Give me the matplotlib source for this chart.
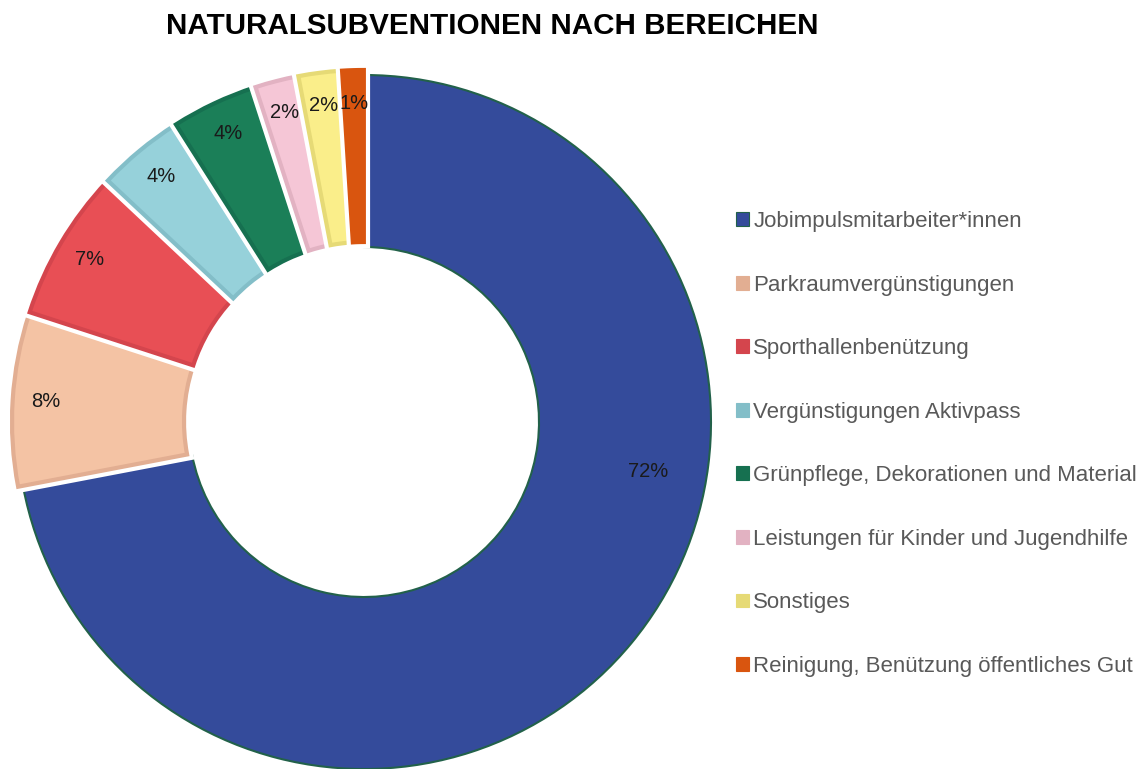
import matplotlib
matplotlib.use("Agg")
import matplotlib.pyplot as plt
import matplotlib.patheffects as pe

title = "NATURALSUBVENTIONEN NACH BEREICHEN"
categories = [
    "Jobimpulsmitarbeiter*innen",
    "Parkraumvergünstigungen",
    "Sporthallenbenützung",
    "Vergünstigungen Aktivpass",
    "Grünpflege, Dekorationen und Material",
    "Leistungen für Kinder und Jugendhilfe",
    "Sonstiges",
    "Reinigung, Benützung öffentliches Gut",
]
values = [72, 8, 7, 4, 4, 2, 2, 1]
colors = ["#344B9B", "#F4C3A4", "#E84F55", "#96D1DA", "#1B7F58", "#F5C6D6", "#FAEE8A", "#D9550F"]
edges = ["#22614A", "#E2AE92", "#D4454D", "#83BEC8", "#167050", "#E2B2C2", "#E6DA76", "#D9550F"]
explode_px = [0, 5, 5, 5, 5, 5, 5, 5]

plt.rcParams["font.family"] = ["Liberation Sans", "DejaVu Sans"]

W, H = 1147, 769
fig = plt.figure(figsize=(W / 100, H / 100), dpi=100)
ax = fig.add_axes([0, 0, 1, 1])

cx, cy, R = 364, H - 422, 347
wedges, texts, autotexts = ax.pie(
    values,
    colors=colors,
    explode=explode_px,
    startangle=90,
    counterclock=False,
    center=(cx, cy),
    radius=R,
    autopct="%d%%",
    pctdistance=0.905,
    wedgeprops=dict(width=R - 175, linewidth=3),
    textprops=dict(fontsize=14.5, color="#1a1a1a"),
    frame=True,
)
for i, (w, ec) in enumerate(zip(wedges, edges)):
    w.set_edgecolor(ec)
    if i > 0:
        w.set_path_effects([pe.Stroke(linewidth=9, foreground="white"), pe.Normal()])
wedges[0].set_linewidth(1.5)
ax.set_xlim(0, W)
ax.set_ylim(0, H)
ax.set_aspect("equal")
ax.axis("off")

# 72% label position as in reference
autotexts[0].set_position((cx + 0.818 * R, cy - 0.144 * R))

fig.text(492 / W, 1 - 26 / H, title, ha="center", va="center", fontsize=21.3, fontweight="bold", color="black")

leg = ax.legend(
    wedges, categories,
    loc="upper left",
    bbox_to_anchor=(736 / W, 1 - 211 / H),
    bbox_transform=fig.transFigure,
    frameon=False,
    fontsize=16,
    handlelength=0.585, handleheight=0.585,
    handletextpad=0.2,
    labelspacing=1.915,
    borderaxespad=0, borderpad=0,
)
for t in leg.get_texts():
    t.set_color("#595959")
for i, (h, c) in enumerate(zip(leg.legend_handles, edges)):
    h.set_linewidth(0.8)
    h.set_path_effects([])
    if i > 0:
        h.set_facecolor(c)

fig.savefig("out.png", dpi=100)
